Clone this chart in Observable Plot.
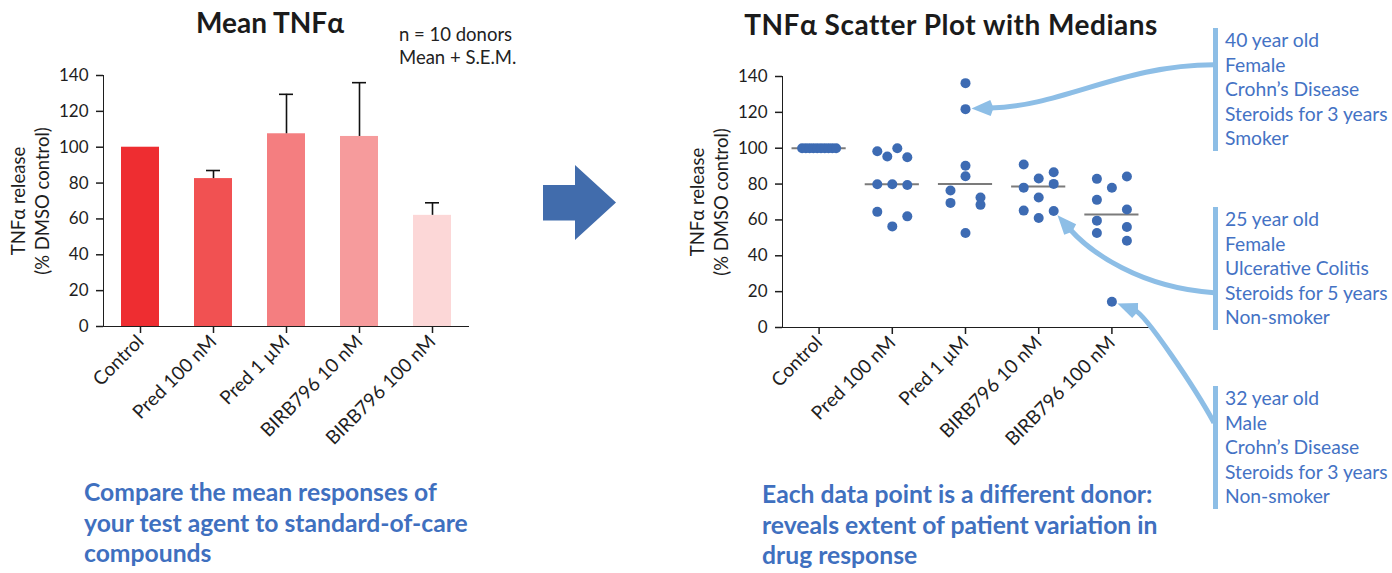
<!DOCTYPE html>
<html>
<head>
<meta charset="utf-8">
<script src="https://cdn.jsdelivr.net/npm/d3@7"></script>
<script src="https://cdn.jsdelivr.net/npm/@observablehq/plot@0.6"></script>
<style>
  html, body { margin: 0; padding: 0; background: #fff; }
  #page { position: relative; width: 1392px; height: 573px; overflow: hidden; background: #fff; font-family: Lato, sans-serif; }
  .abs { position: absolute; white-space: nowrap; }
  .title { font-weight: 700; font-size: 28px; color: #1b1b1b; transform: translate(-50%, -50%); }
  .note { font-size: 18.5px; color: #222; line-height: 23px; }
  .blurb { font-weight: 700; font-size: 24.7px; color: #3f70bf; line-height: 30.5px; }
  .donor { border-left: 5px solid #8dbee6; padding-left: 7px; font-size: 19.3px; line-height: 24.5px; color: #4472c4; }
  .plot { position: absolute; top: 0; }
  .plot svg g[aria-label^="x-axis"] line, .plot svg g[aria-label^="x-axis"] path,
  .plot svg g[aria-label^="y-axis"] line, .plot svg g[aria-label^="y-axis"] path { stroke-width: 1.5px; }
  .plot svg g[aria-label^="x-axis"] text { font-size: 19px; }
  #overlay { position: absolute; left: 0; top: 0; pointer-events: none; }
</style>
</head>
<body>
<div id="page"></div>
<script>
// ---------- data ----------
const groups = ["Control", "Pred 100 nM", "Pred 1 µM", "BIRB796 10 nM", "BIRB796 100 nM"];
const meanRelease = [100, 82.5, 107.5, 106, 62];
const semRelease = [0, 4.5, 22, 30, 7];
const barColors = ["#ee2d31", "#f15152", "#f47e80", "#f69b9c", "#fcd7d7"];

const donorsControl = [100, 100, 100, 100, 100, 100, 100, 100, 100, 100];
const donorsPred100 = [98.3, 95.4, 100, 95, 79.9, 79.9, 79.5, 64.5, 62, 56.4];
const donorsPred1 = [136.3, 121.8, 90.2, 84.4, 76.4, 72.5, 69.5, 68.4, 52.7];
const donorsBirb10 = [90.9, 86.6, 78.0, 83.1, 80.1, 72.5, 65.2, 61.1, 65.0];
const donorsBirb100 = [82.9, 84.2, 77.9, 71.2, 65.8, 59.6, 56.1, 52.7, 48.4, 14.4];
const medianRelease = [100, 79.9, 80, 78.6, 63];

const yTicks = [0, 20, 40, 60, 80, 100, 120, 140];
const yLabel = "TNFα release\n(% DMSO control)";

const leftTitle = "Mean TNFα";
const rightTitle = "TNFα Scatter Plot with Medians";
const statNote = ["n = 10 donors", "Mean + S.E.M."];
const leftBlurb = ["Compare the mean responses of", "your test agent to standard-of-care", "compounds"];
const rightBlurb = ["Each data point is a different donor:", "reveals extent of patient variation in", "drug response"];

const donorNotes = [
  {group: "Pred 1 µM", value: 121.8, lines: ["40 year old", "Female", "Crohn’s Disease", "Steroids for 3 years", "Smoker"]},
  {group: "BIRB796 10 nM", value: 65.0, lines: ["25 year old", "Female", "Ulcerative Colitis", "Steroids for 5 years", "Non-smoker"]},
  {group: "BIRB796 100 nM", value: 14.4, lines: ["32 year old", "Male", "Crohn’s Disease", "Steroids for 3 years", "Non-smoker"]}
];

// ---------- layout helpers ----------
const page = document.getElementById("page");
function addDiv(cls, html, style) {
  const d = document.createElement("div");
  d.className = "abs " + cls;
  d.innerHTML = html;
  Object.assign(d.style, style);
  page.appendChild(d);
  return d;
}

const W = 480, H = 460, ML = 103, MR = 12, MT = 75, MB = 134;
const axisStyle = {fontFamily: "Lato, sans-serif", fontSize: "17px", color: "#1e1e1e", background: "transparent", overflow: "visible"};
const labelMark = () => Plot.text([yLabel], {text: d => d, frameAnchor: "left", textAnchor: "middle", lineAnchor: "middle", rotate: -90, dx: -74, lineHeight: 1.3, fontSize: 18.5, fill: "#1e1e1e"});

// ---------- left: bar chart ----------
const barRows = groups.map((g, i) => ({group: g, mean: meanRelease[i], top: meanRelease[i] + semRelease[i], color: barColors[i], sem: semRelease[i]}));
const errRows = barRows.filter(d => d.sem > 0);

const left = Plot.plot({
  width: W, height: H, marginLeft: ML, marginRight: MR, marginTop: MT, marginBottom: MB,
  style: axisStyle,
  x: {domain: groups, paddingInner: 0.48, paddingOuter: 0.24, tickRotate: -45, tickSize: 7, tickPadding: 5, line: true, label: null},
  y: {domain: [0, 140], ticks: yTicks, tickSize: 7, tickPadding: 8, line: true, label: null},
  color: {type: "identity"},
  marks: [
    Plot.barY(barRows, {x: "group", y: "mean", fill: "color"}),
    Plot.ruleX(errRows, {x: "group", y1: "mean", y2: "top", stroke: "#111", strokeWidth: 1.6}),
    Plot.tickY(errRows, {x: "group", y: "top", stroke: "#111", strokeWidth: 1.6, insetLeft: 12, insetRight: 12}),
    labelMark()
  ]
});
const leftWrap = document.createElement("div");
leftWrap.className = "plot";
leftWrap.style.left = "0px";
leftWrap.appendChild(left);
page.appendChild(leftWrap);

// ---------- right: scatter with medians ----------
const donorSets = [donorsControl, donorsPred100, donorsPred1, donorsBirb10, donorsBirb100];
const pxPerUnit = (H - MB - MT + 1) / 140;
function layoutGroup(values, gi) {
  const order = values.map((v, i) => i).sort((a, b) => values[b] - values[a]);
  const rows = [];
  let cur = null;
  for (const i of order) {
    if (cur && (values[cur[0]] - values[i]) * pxPerUnit < 10) cur.push(i);
    else { cur = [i]; rows.push(cur); }
  }
  const out = [];
  for (const row of rows) {
    row.sort((a, b) => a - b);
    const n = row.length, half = n > 5 ? 17 : 15;
    row.forEach((i, k) => out.push({gi, group: groups[gi], value: values[i], off: n === 1 ? 0 : -half + 2 * half * k / (n - 1)}));
  }
  return out;
}
const dotRows = donorSets.flatMap((vals, gi) => layoutGroup(vals, gi));
const medRows = groups.map((g, gi) => ({gi, median: medianRelease[gi]}));
const RML = 102, RMT = 76, RMB = 133;
const stepPx = (W - RML - MR) / groups.length;

const right = Plot.plot({
  width: W, height: H, marginLeft: RML, marginRight: MR, marginTop: RMT, marginBottom: RMB,
  style: axisStyle,
  x: {domain: [-0.5, groups.length - 0.5], ticks: d3.range(groups.length), tickFormat: i => groups[i], tickRotate: -45, tickSize: 7, tickPadding: 5, line: true, label: null},
  y: {domain: [0, 140], ticks: yTicks, tickSize: 7, tickPadding: 8, line: true, label: null},
  marks: [
    Plot.ruleY(medRows, {x1: d => d.gi - 0.37, x2: d => d.gi + 0.37, y: "median", stroke: "#7b7b7b", strokeWidth: 2}),
    Plot.dot(dotRows, {x: d => d.gi + d.off / stepPx, y: "value", r: 5, fill: "#3d6bb3", stroke: "none"}),
    labelMark()
  ]
});
const RIGHT_LEFT = 680;
const rightWrap = document.createElement("div");
rightWrap.className = "plot";
rightWrap.style.left = RIGHT_LEFT + "px";
rightWrap.appendChild(right);
page.appendChild(rightWrap);

// ---------- texts ----------
addDiv("title", leftTitle, {left: "270px", top: "22px"});
addDiv("title", rightTitle, {left: "951px", top: "24px", letterSpacing: "0.5px"});
addDiv("note", statNote.join("<br>"), {left: "399px", top: "23px"});
addDiv("blurb", leftBlurb.join("<br>"), {left: "84px", top: "477px"});
addDiv("blurb", rightBlurb.join("<br>"), {left: "762px", top: "479px"});

const boxTops = [28, 207, 386];
const tailLine = [1.5, 3.5, 1.5];
const boxes = donorNotes.map((n, k) => addDiv("donor", n.lines.join("<br>"), {left: "1213px", top: boxTops[k] + "px"}));

// ---------- big arrow (decoration) ----------
const NS = "http://www.w3.org/2000/svg";
const overlay = document.createElementNS(NS, "svg");
overlay.setAttribute("id", "overlay");
overlay.setAttribute("width", 1392);
overlay.setAttribute("height", 573);
page.appendChild(overlay);
const big = document.createElementNS(NS, "path");
big.setAttribute("d", "M543,185 H575 V165 L616,202.5 L575,240 V220.5 H543 Z");
big.setAttribute("fill", "#416cac");
overlay.appendChild(big);

// ---------- callout arrows from annotation boxes to donors ----------
const xs = right.scale("x"), ys = right.scale("y");
const fx = v => RIGHT_LEFT + (xs && xs.apply ? xs.apply(v) : RML + (v + 0.5) * stepPx);
const fy = v => (ys && ys.apply ? ys.apply(v) : (H - RMB) - v / 140 * (H - RMB - RMT));
const bends = [
  {d1: [90, -2], d2: [-90, 0]},
  {d1: [33, 37], d2: [-73, -5]},
  {d1: [28, 11], d2: [-18, -35]}
];
const arrowColor = "#8dbee6";
donorNotes.forEach((n, k) => {
  const gi = groups.indexOf(n.group);
  const dot = dotRows.find(d => d.gi === gi && d.value === n.value);
  const cx = fx(dot.gi + dot.off / stepPx), cy = fy(dot.value);
  const [ax, ay] = bends[k].d1;
  const len = Math.hypot(ax, ay), ux = ax / len, uy = ay / len;
  const tip = [cx + ux * 6.5, cy + uy * 6.5];
  const L = 19, hw = 8;
  const base = [tip[0] + ux * L, tip[1] + uy * L];
  const box = boxes[k];
  const tail = [box.offsetLeft, box.offsetTop + 24.5 * tailLine[k]];
  const p1 = [tip[0] + ax, tip[1] + ay];
  const p2 = [tail[0] + bends[k].d2[0], tail[1] + bends[k].d2[1]];
  const path = document.createElementNS(NS, "path");
  path.setAttribute("d", `M${base[0]},${base[1]} C${p1[0]},${p1[1]} ${p2[0]},${p2[1]} ${tail[0] + 1},${tail[1]}`);
  path.setAttribute("fill", "none");
  path.setAttribute("stroke", arrowColor);
  path.setAttribute("stroke-width", 5);
  overlay.appendChild(path);
  const head = document.createElementNS(NS, "path");
  const nx = -uy, ny = ux;
  head.setAttribute("d", `M${tip[0]},${tip[1]} L${base[0] + nx * hw},${base[1] + ny * hw} L${base[0] + ux * 3},${base[1] + uy * 3} L${base[0] - nx * hw},${base[1] - ny * hw} Z`);
  head.setAttribute("fill", arrowColor);
  overlay.appendChild(head);
});
</script>
</body>
</html>
